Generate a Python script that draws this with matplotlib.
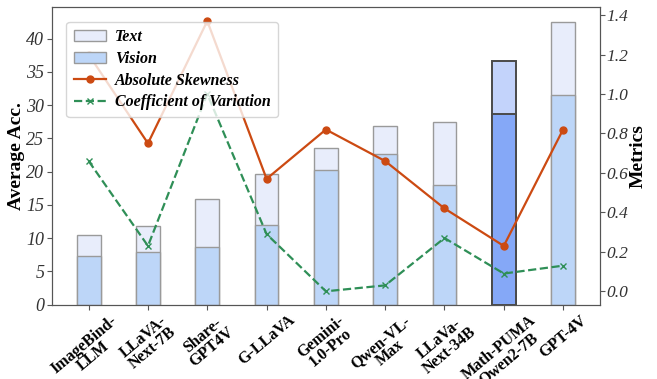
import numpy as np
import matplotlib
matplotlib.use("Agg")
import matplotlib.pyplot as plt
from matplotlib.patches import Patch
from matplotlib.lines import Line2D

plt.rcParams["font.family"] = ["Liberation Serif", "DejaVu Serif"]

# ---- data -------------------------------------------------------------------
models = ["ImageBind-\nLLM", "LLaVA-\nNext-7B", "Share-\nGPT4V", "G-LLaVA",
          "Gemini-\n1.0-Pro", "Qwen-VL-\nMax", "LLaVa-\nNext-34B",
          "Math-PUMA\nQwen2-7B", "GPT-4V"]
text_acc = [10.5, 11.8, 15.9, 19.6, 23.5, 26.9, 27.5, 36.7, 42.5]
vision_acc = [7.3, 8.0, 8.7, 12.0, 20.3, 22.7, 18.0, 28.7, 31.6]
abs_skew = [1.20, 0.75, 1.37, 0.57, 0.82, 0.66, 0.42, 0.23, 0.82]
coef_var = [0.66, 0.23, 1.00, 0.29, 0.00, 0.03, 0.27, 0.09, 0.13]
highlight = "Math-PUMA\nQwen2-7B"

# ---- colours ----------------------------------------------------------------
TEXT_C = "#e8edfb"; VIS_C = "#bdd6f8"; EDGE = "#9a9a9a"
HL_TEXT = "#c3d3fb"; HL_VIS = "#85a8f7"; HL_EDGE = "#4a4a4a"
RED = "#cc4a12"; GREEN = "#2f8f57"

fig = plt.figure(figsize=(6.57, 3.79), dpi=100)
ax = fig.add_axes([0.079, 0.196, 0.834, 0.786])
x = np.arange(len(models))
w = 0.4

for i, m in enumerate(models):
    hl = m == highlight
    ax.bar(x[i], text_acc[i], w, color=HL_TEXT if hl else TEXT_C,
           edgecolor=HL_EDGE if hl else EDGE, lw=1.4 if hl else 1.0)
    ax.bar(x[i], vision_acc[i], w, color=HL_VIS if hl else VIS_C,
           edgecolor=HL_EDGE if hl else EDGE, lw=1.4 if hl else 1.0)

ax.set_ylim(0, 44.8)
ax.set_yticks(range(0, 45, 5))
ax.set_ylabel("Average Acc.", fontsize=14, fontweight="bold", labelpad=1)
ax.set_xticks(x)
ax.set_xticklabels(models, rotation=40, ha="center", fontsize=11.5,
                   fontweight="bold", linespacing=0.9)
for lab in ax.get_yticklabels():
    lab.set_fontstyle("italic"); lab.set_fontsize(13); lab.set_color("#333333")
ax.tick_params(axis="both", color="#555555", length=3.5, pad=2)
for s in ax.spines.values():
    s.set_color("#555555")

ax2 = ax.twinx()
ax2.plot(x, abs_skew, color=RED, marker="o", ms=5, lw=1.6)
ax2.plot(x, coef_var, color=GREEN, marker="x", ms=5, lw=1.6, ls="--")
ax2.set_ylim(-0.068, 1.442)
ax2.set_yticks(np.arange(0, 1.41, 0.2))
ax2.set_yticklabels([f"{v:.1f}" for v in np.arange(0, 1.41, 0.2)])
ax2.set_ylabel("Metrics", fontsize=14, fontweight="bold", labelpad=1)
for lab in ax2.get_yticklabels():
    lab.set_fontstyle("italic"); lab.set_fontsize(12.5); lab.set_color("#333333")
ax2.tick_params(axis="y", color="#555555", length=3.5, pad=1)
for s in ax2.spines.values():
    s.set_color("#555555")

handles = [Patch(facecolor=TEXT_C, edgecolor=EDGE, label="Text"),
           Patch(facecolor=VIS_C, edgecolor=EDGE, label="Vision"),
           Line2D([], [], color=RED, marker="o", ms=5, lw=1.6, label="Absolute Skewness"),
           Line2D([], [], color=GREEN, marker="x", ms=5, lw=1.6, ls="--",
                  label="Coefficient of Variation")]
ax2.legend(handles=handles, loc="upper left", framealpha=0.8,
           prop={"weight": "bold", "style": "italic", "size": 11.5},
           handlelength=2.0, borderpad=0.45, labelspacing=0.35,
           handletextpad=0.6, bbox_to_anchor=(0.012, 0.975))

fig.savefig("out.png", dpi=100)
